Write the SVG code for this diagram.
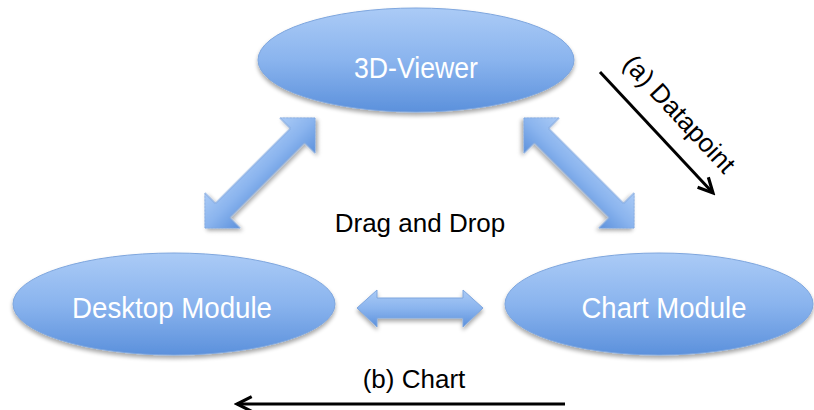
<svg xmlns="http://www.w3.org/2000/svg" width="814" height="410" viewBox="0 0 814 410">
<defs>
<linearGradient id="gb" x1="0" y1="0" x2="0" y2="1">
<stop offset="0" stop-color="#abcbf6"/>
<stop offset="0.5" stop-color="#8ab4ee"/>
<stop offset="1" stop-color="#5c91dc"/>
</linearGradient>
<filter id="sh" x="-10%" y="-10%" width="120%" height="130%">
<feGaussianBlur in="SourceAlpha" stdDeviation="2"/>
<feOffset dx="0" dy="3" result="o"/>
<feComponentTransfer><feFuncA type="linear" slope="0.35"/></feComponentTransfer>
<feMerge><feMergeNode/><feMergeNode in="SourceGraphic"/></feMerge>
</filter>
<marker id="ah" viewBox="0 0 20 20" refX="17" refY="10" markerWidth="7" markerHeight="7" markerUnits="strokeWidth" orient="auto">
<polyline points="3,3 17,10 3,17" fill="none" stroke="#000" stroke-width="3" stroke-linejoin="miter"/>
</marker>
</defs>
<style>
.node{fill:url(#gb);stroke:#7ea6de;stroke-width:1;filter:url(#sh)}
.nt{font-family:"Liberation Sans",Arial,sans-serif;font-size:30px;fill:#fff;text-anchor:middle}
.lt{font-family:"Liberation Sans",Arial,sans-serif;font-size:26px;fill:#000;text-anchor:middle}
.blk{fill:url(#gb);stroke:#7ea6de;stroke-width:1;filter:url(#sh)}
.ln{stroke:#000;stroke-width:3;fill:none;marker-end:url(#ah)}
</style>
<rect width="814" height="410" fill="#fff"/>
<g id="viewer">
<ellipse class="node" cx="416" cy="60" rx="158" ry="52"/>
<text class="nt" x="416" y="78" textLength="124" lengthAdjust="spacingAndGlyphs">3D-Viewer</text>
</g>
<g id="desktop">
<ellipse class="node" cx="174" cy="304" rx="161" ry="51"/>
<text class="nt" x="172" y="318" textLength="200" lengthAdjust="spacingAndGlyphs">Desktop Module</text>
</g>
<g id="chart">
<ellipse class="node" cx="659" cy="304" rx="154" ry="51"/>
<text class="nt" x="664" y="318" textLength="165" lengthAdjust="spacingAndGlyphs">Chart Module</text>
</g>
<g id="connectors">
<path class="blk" transform="translate(260,173) rotate(-45)" d="M-78 0 L-53 -25 L-53 -10 L53 -10 L53 -25 L78 0 L53 25 L53 10 L-53 10 L-53 25 Z"/>
<path class="blk" transform="translate(579,173) rotate(45)" d="M-78 0 L-53 -25 L-53 -10 L53 -10 L53 -25 L78 0 L53 25 L53 10 L-53 10 L-53 25 Z"/>
<path class="blk" d="M357 308 L377 290 L377 298 L463 298 L463 290 L483 308 L463 327 L463 318 L377 318 L377 327 Z"/>
<line class="ln" x1="600" y1="72" x2="713" y2="193"/>
<line class="ln" x1="565" y1="404" x2="237" y2="404"/>
<text class="lt" x="420" y="232">Drag and Drop</text>
<text class="lt" transform="translate(673,120) rotate(47)" x="0" y="0" font-size="27">(a) Datapoint</text>
<text class="lt" x="414" y="388" font-size="28">(b) Chart</text>
</g>
</svg>
